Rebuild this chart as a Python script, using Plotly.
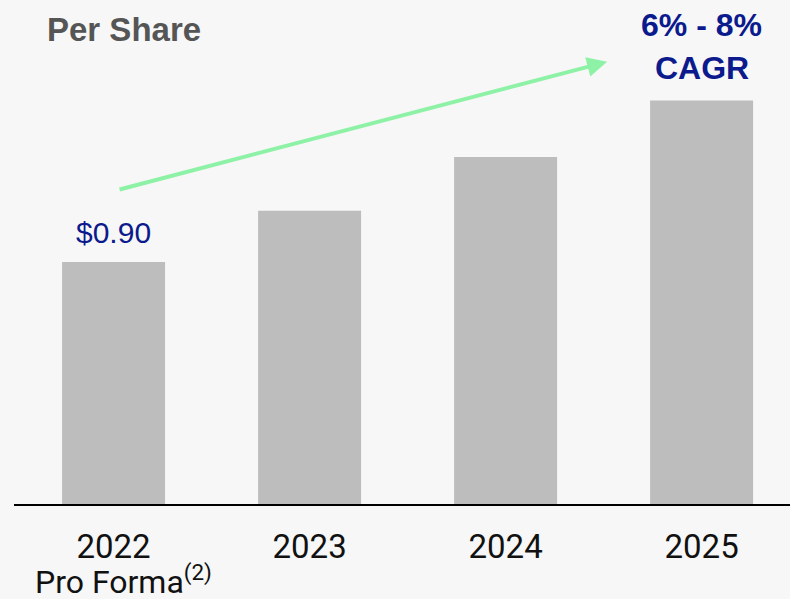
import plotly.graph_objects as go

categories = ["2022", "2023", "2024", "2025"]
tick_labels = ["2022", "2023", "2024", "2025"]
sub_label = "Pro Forma<sup>(2)</sup>"
eps_values = [0.90, 1.09, 1.29, 1.50]
first_label = "$0.90"
cagr_line1 = "6% - 8%"
cagr_line2 = "CAGR"
title_text = "Per Share"

# arrow in data coordinates (tail at 2022, head near 2025 label)
arrow_tail = (0.023, 1.168)
arrow_head = (2.518, 1.644)

navy = "#0b1a8c"
x_idx = list(range(len(categories)))

fig = go.Figure()
fig.add_trace(go.Bar(
    x=x_idx, y=eps_values, width=0.5255,
    marker=dict(color="#bdbdbd", line=dict(width=0)),
    hoverinfo="skip",
))

fig.add_annotation(x=0, y=eps_values[0], xref="x", yref="y", text=first_label,
                   showarrow=False, yanchor="bottom", yshift=11,
                   font=dict(family="Liberation Sans", size=30, color=navy))
fig.add_annotation(x=3, y=eps_values[3], xref="x", yref="y", text="<b>" + cagr_line2 + "</b>",
                   showarrow=False, yanchor="bottom", yshift=13,
                   font=dict(family="Liberation Sans", size=32, color=navy))
fig.add_annotation(x=3, y=eps_values[3], xref="x", yref="y", text="<b>" + cagr_line1 + "</b>",
                   showarrow=False, yanchor="bottom", yshift=56,
                   font=dict(family="Liberation Sans", size=32, color=navy))

fig.add_annotation(x=arrow_head[0], y=arrow_head[1], ax=arrow_tail[0], ay=arrow_tail[1],
                   xref="x", yref="y", axref="x", ayref="y", text="",
                   showarrow=True, arrowhead=2, arrowsize=1, arrowwidth=4,
                   arrowcolor="#8ef2a6")

fig.add_annotation(x=0.0397, y=0.942, xref="paper", yref="paper", text="<b>" + title_text + "</b>",
                   showarrow=False, xanchor="left", yanchor="middle",
                   font=dict(family="Liberation Sans", size=33, color="#555555"))

fig.add_annotation(x=0, y=0, xref="x", yref="paper", text=sub_label,
                   showarrow=False, xanchor="center", yanchor="middle", xshift=10, yshift=-76,
                   font=dict(family="Roboto", size=32, color="#111111"))

fig.update_layout(
    width=790, height=599,
    margin=dict(l=14, r=0, t=0, b=95),
    paper_bgcolor="#f7f7f7", plot_bgcolor="#f7f7f7",
    showlegend=False,
    xaxis=dict(range=[-0.508, 3.451], tickmode="array", tickvals=x_idx, ticktext=tick_labels,
               showline=True, linecolor="#000000", linewidth=2, showgrid=False,
               zeroline=False, ticks="", ticklabelstandoff=12, automargin=False,
               tickfont=dict(family="Roboto", size=33, color="#111111"), fixedrange=True),
    yaxis=dict(range=[0, 1.874], visible=False, showgrid=False, zeroline=False,
               fixedrange=True, automargin=False),
)

fig.write_html("out.html", config={"displayModeBar": False},
               post_script="document.body.style.margin='0';document.body.style.background='#f7f7f7';")
